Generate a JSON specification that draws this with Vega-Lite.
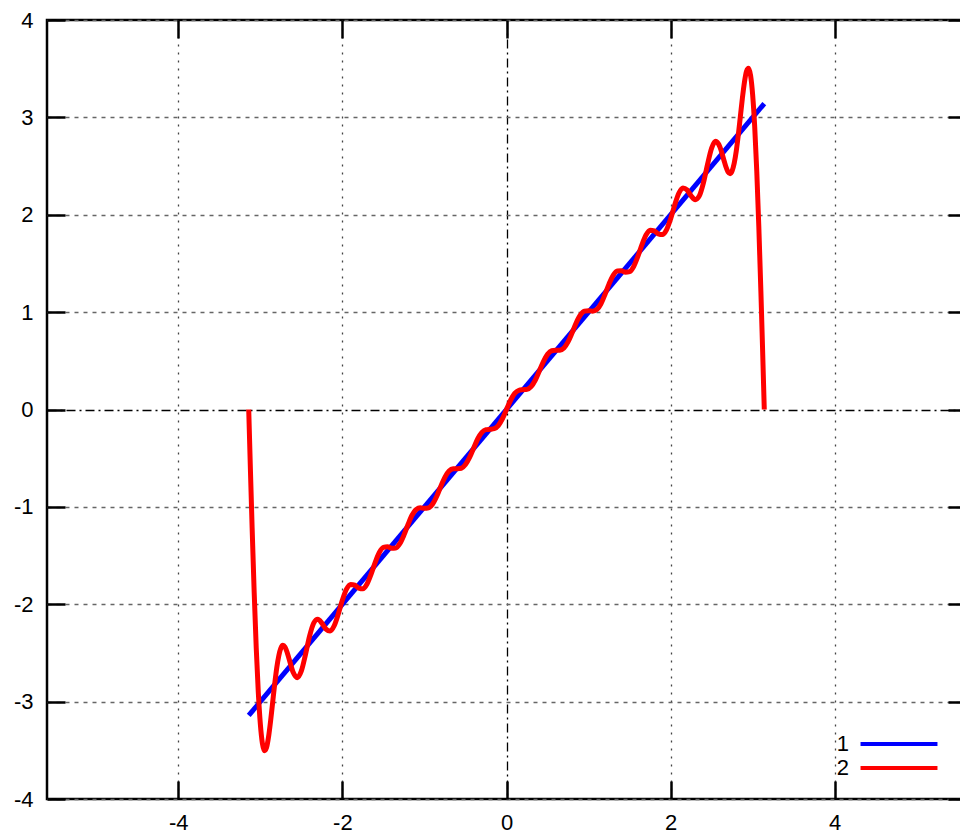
{
  "$schema": "https://vega.github.io/schema/vega-lite/v6.json",
  "width": 919,
  "height": 779,
  "autosize": {"type": "none"},
  "padding": {"left": 47, "top": 20, "right": 0, "bottom": 39},
  "background": "white",
  "config": {"view": {"stroke": "black", "strokeWidth": 2.5}, "font": "Liberation Sans"},
  "datasets": {
    "curves": [
      {"s": "1", "x": -3.1416, "y": -3.1416},
      {"s": "1", "x": 3.1416, "y": 3.1416},
      {"s": "2", "x": -3.1416, "y": 0},
      {"s": "2", "x": -3.12, "y": -0.644},
      {"s": "2", "x": -3.1, "y": -1.218},
      {"s": "2", "x": -3.075, "y": -1.879},
      {"s": "2", "x": -3.05, "y": -2.449},
      {"s": "2", "x": -3.025, "y": -2.903},
      {"s": "2", "x": -3.0, "y": -3.23},
      {"s": "2", "x": -2.975, "y": -3.428},
      {"s": "2", "x": -2.95, "y": -3.504},
      {"s": "2", "x": -2.925, "y": -3.474},
      {"s": "2", "x": -2.9, "y": -3.363},
      {"s": "2", "x": -2.875, "y": -3.199},
      {"s": "2", "x": -2.85, "y": -3.008},
      {"s": "2", "x": -2.825, "y": -2.819},
      {"s": "2", "x": -2.8, "y": -2.653},
      {"s": "2", "x": -2.775, "y": -2.528},
      {"s": "2", "x": -2.75, "y": -2.45},
      {"s": "2", "x": -2.725, "y": -2.422},
      {"s": "2", "x": -2.7, "y": -2.439},
      {"s": "2", "x": -2.675, "y": -2.49},
      {"s": "2", "x": -2.65, "y": -2.56},
      {"s": "2", "x": -2.6, "y": -2.699},
      {"s": "2", "x": -2.55, "y": -2.754},
      {"s": "2", "x": -2.5, "y": -2.685},
      {"s": "2", "x": -2.45, "y": -2.518},
      {"s": "2", "x": -2.4, "y": -2.328},
      {"s": "2", "x": -2.35, "y": -2.194},
      {"s": "2", "x": -2.3, "y": -2.155},
      {"s": "2", "x": -2.25, "y": -2.194},
      {"s": "2", "x": -2.2, "y": -2.255},
      {"s": "2", "x": -2.15, "y": -2.275},
      {"s": "2", "x": -2.1, "y": -2.221},
      {"s": "2", "x": -2.05, "y": -2.1},
      {"s": "2", "x": -2.0, "y": -1.957},
      {"s": "2", "x": -1.95, "y": -1.845},
      {"s": "2", "x": -1.9, "y": -1.796},
      {"s": "2", "x": -1.85, "y": -1.804},
      {"s": "2", "x": -1.8, "y": -1.834},
      {"s": "2", "x": -1.75, "y": -1.842},
      {"s": "2", "x": -1.7, "y": -1.792},
      {"s": "2", "x": -1.65, "y": -1.691},
      {"s": "2", "x": -1.6, "y": -1.57},
      {"s": "2", "x": -1.55, "y": -1.469},
      {"s": "2", "x": -1.5, "y": -1.416},
      {"s": "2", "x": -1.45, "y": -1.41},
      {"s": "2", "x": -1.4, "y": -1.424},
      {"s": "2", "x": -1.35, "y": -1.422},
      {"s": "2", "x": -1.3, "y": -1.378},
      {"s": "2", "x": -1.25, "y": -1.29},
      {"s": "2", "x": -1.2, "y": -1.181},
      {"s": "2", "x": -1.15, "y": -1.084},
      {"s": "2", "x": -1.1, "y": -1.026},
      {"s": "2", "x": -1.05, "y": -1.01},
      {"s": "2", "x": -1.0, "y": -1.015},
      {"s": "2", "x": -0.95, "y": -1.01},
      {"s": "2", "x": -0.9, "y": -0.97},
      {"s": "2", "x": -0.85, "y": -0.891},
      {"s": "2", "x": -0.8, "y": -0.788},
      {"s": "2", "x": -0.75, "y": -0.694},
      {"s": "2", "x": -0.7, "y": -0.632},
      {"s": "2", "x": -0.65, "y": -0.609},
      {"s": "2", "x": -0.6, "y": -0.608},
      {"s": "2", "x": -0.55, "y": -0.603},
      {"s": "2", "x": -0.5, "y": -0.566},
      {"s": "2", "x": -0.45, "y": -0.492},
      {"s": "2", "x": -0.4, "y": -0.395},
      {"s": "2", "x": -0.35, "y": -0.3},
      {"s": "2", "x": -0.3, "y": -0.235},
      {"s": "2", "x": -0.25, "y": -0.207},
      {"s": "2", "x": -0.2, "y": -0.203},
      {"s": "2", "x": -0.15, "y": -0.197},
      {"s": "2", "x": -0.1, "y": -0.165},
      {"s": "2", "x": -0.05, "y": -0.095},
      {"s": "2", "x": 0, "y": 0},
      {"s": "2", "x": 0.05, "y": 0.095},
      {"s": "2", "x": 0.1, "y": 0.165},
      {"s": "2", "x": 0.15, "y": 0.197},
      {"s": "2", "x": 0.2, "y": 0.203},
      {"s": "2", "x": 0.25, "y": 0.207},
      {"s": "2", "x": 0.3, "y": 0.235},
      {"s": "2", "x": 0.35, "y": 0.3},
      {"s": "2", "x": 0.4, "y": 0.395},
      {"s": "2", "x": 0.45, "y": 0.492},
      {"s": "2", "x": 0.5, "y": 0.566},
      {"s": "2", "x": 0.55, "y": 0.603},
      {"s": "2", "x": 0.6, "y": 0.608},
      {"s": "2", "x": 0.65, "y": 0.609},
      {"s": "2", "x": 0.7, "y": 0.632},
      {"s": "2", "x": 0.75, "y": 0.694},
      {"s": "2", "x": 0.8, "y": 0.788},
      {"s": "2", "x": 0.85, "y": 0.891},
      {"s": "2", "x": 0.9, "y": 0.97},
      {"s": "2", "x": 0.95, "y": 1.01},
      {"s": "2", "x": 1.0, "y": 1.015},
      {"s": "2", "x": 1.05, "y": 1.01},
      {"s": "2", "x": 1.1, "y": 1.026},
      {"s": "2", "x": 1.15, "y": 1.084},
      {"s": "2", "x": 1.2, "y": 1.181},
      {"s": "2", "x": 1.25, "y": 1.29},
      {"s": "2", "x": 1.3, "y": 1.378},
      {"s": "2", "x": 1.35, "y": 1.422},
      {"s": "2", "x": 1.4, "y": 1.424},
      {"s": "2", "x": 1.45, "y": 1.41},
      {"s": "2", "x": 1.5, "y": 1.416},
      {"s": "2", "x": 1.55, "y": 1.469},
      {"s": "2", "x": 1.6, "y": 1.57},
      {"s": "2", "x": 1.65, "y": 1.691},
      {"s": "2", "x": 1.7, "y": 1.792},
      {"s": "2", "x": 1.75, "y": 1.842},
      {"s": "2", "x": 1.8, "y": 1.834},
      {"s": "2", "x": 1.85, "y": 1.804},
      {"s": "2", "x": 1.9, "y": 1.796},
      {"s": "2", "x": 1.95, "y": 1.845},
      {"s": "2", "x": 2.0, "y": 1.957},
      {"s": "2", "x": 2.05, "y": 2.1},
      {"s": "2", "x": 2.1, "y": 2.221},
      {"s": "2", "x": 2.15, "y": 2.275},
      {"s": "2", "x": 2.2, "y": 2.255},
      {"s": "2", "x": 2.25, "y": 2.194},
      {"s": "2", "x": 2.3, "y": 2.155},
      {"s": "2", "x": 2.35, "y": 2.194},
      {"s": "2", "x": 2.4, "y": 2.328},
      {"s": "2", "x": 2.45, "y": 2.518},
      {"s": "2", "x": 2.5, "y": 2.685},
      {"s": "2", "x": 2.55, "y": 2.754},
      {"s": "2", "x": 2.6, "y": 2.699},
      {"s": "2", "x": 2.65, "y": 2.56},
      {"s": "2", "x": 2.675, "y": 2.49},
      {"s": "2", "x": 2.7, "y": 2.439},
      {"s": "2", "x": 2.725, "y": 2.422},
      {"s": "2", "x": 2.75, "y": 2.45},
      {"s": "2", "x": 2.775, "y": 2.528},
      {"s": "2", "x": 2.8, "y": 2.653},
      {"s": "2", "x": 2.825, "y": 2.819},
      {"s": "2", "x": 2.85, "y": 3.008},
      {"s": "2", "x": 2.875, "y": 3.199},
      {"s": "2", "x": 2.9, "y": 3.363},
      {"s": "2", "x": 2.925, "y": 3.474},
      {"s": "2", "x": 2.95, "y": 3.504},
      {"s": "2", "x": 2.975, "y": 3.428},
      {"s": "2", "x": 3.0, "y": 3.23},
      {"s": "2", "x": 3.025, "y": 2.903},
      {"s": "2", "x": 3.05, "y": 2.449},
      {"s": "2", "x": 3.075, "y": 1.879},
      {"s": "2", "x": 3.1, "y": 1.218},
      {"s": "2", "x": 3.12, "y": 0.644},
      {"s": "2", "x": 3.1416, "y": 0}
    ],
    "topaxis": [{"x": 0, "y": 0}]
  },
  "layer": [
    {
      "data": {"name": "curves"},
      "mark": {"type": "line", "interpolate": "monotone", "strokeWidth": 5},
      "encoding": {
        "x": {
          "field": "x", "type": "quantitative",
          "scale": {"domain": [-5.6, 5.6], "nice": false, "zero": false},
          "axis": {
            "orient": "bottom", "title": null, "values": [-4, -2, 0, 2, 4],
            "domain": false, "offset": -18,
            "tickSize": 18, "tickWidth": 2.5, "tickColor": "black",
            "labelFontSize": 22, "labelColor": "black", "labelPadding": 13,
            "labelExpr": "'' + datum.value",
            "labelFlush": false, "labelOverlap": false,
            "grid": true, "gridWidth": 1.3,
            "gridColor": {"condition": {"test": "datum.value === 0", "value": "#000000"}, "value": "#444444"},
            "gridDash": {"condition": {"test": "datum.value === 0", "value": [9, 4, 2, 4]}, "value": [2, 6]}
          }
        },
        "y": {
          "field": "y", "type": "quantitative",
          "scale": {"domain": [-4, 4], "nice": false, "zero": false},
          "axis": {
            "orient": "left", "title": null, "values": [-4, -3, -2, -1, 0, 1, 2, 3, 4],
            "domain": false, "offset": -18,
            "tickSize": 18, "tickWidth": 2.5, "tickColor": "black",
            "labelFontSize": 22, "labelColor": "black", "labelPadding": 14,
            "labelExpr": "'' + datum.value",
            "labelFlush": false, "labelOverlap": false,
            "grid": true, "gridWidth": 1.3,
            "gridColor": {"condition": {"test": "datum.value === 0", "value": "#000000"}, "value": "#666666"},
            "gridDash": {"condition": {"test": "datum.value === 0", "value": [9, 4, 2, 4]}, "value": [4, 5]}
          }
        },
        "color": {
          "field": "s", "type": "nominal",
          "scale": {"domain": ["1", "2"], "range": ["#0000ff", "#ff0000"]},
          "legend": {
            "orient": "none", "legendX": 840, "legendY": 712, "title": null,
            "symbolType": "M-4,0H4", "symbolSize": 370, "symbolStrokeWidth": 4,
            "symbolFillColor": "transparent",
            "labelFontSize": 22, "labelColor": "black", "labelAlign": "right",
            "labelOffset": -62, "rowPadding": 1, "padding": 0
          }
        }
      }
    },
    {
      "data": {"name": "topaxis"},
      "mark": {"type": "point", "opacity": 0},
      "encoding": {
        "x": {
          "field": "x", "type": "quantitative",
          "axis": {
            "orient": "top", "title": null, "values": [-4, -2, 0, 2, 4],
            "labels": false, "grid": false, "domain": false, "offset": -18,
            "tickSize": 18, "tickWidth": 2.5, "tickColor": "black"
          }
        },
        "y": {
          "field": "y", "type": "quantitative",
          "axis": {
            "orient": "right", "title": null, "values": [-4, -3, -2, -1, 0, 1, 2, 3, 4],
            "labels": false, "grid": false, "domain": false, "offset": -18,
            "tickSize": 18, "tickWidth": 2.5, "tickColor": "black"
          }
        }
      }
    }
  ],
  "resolve": {"axis": {"x": "independent", "y": "independent"}}
}
